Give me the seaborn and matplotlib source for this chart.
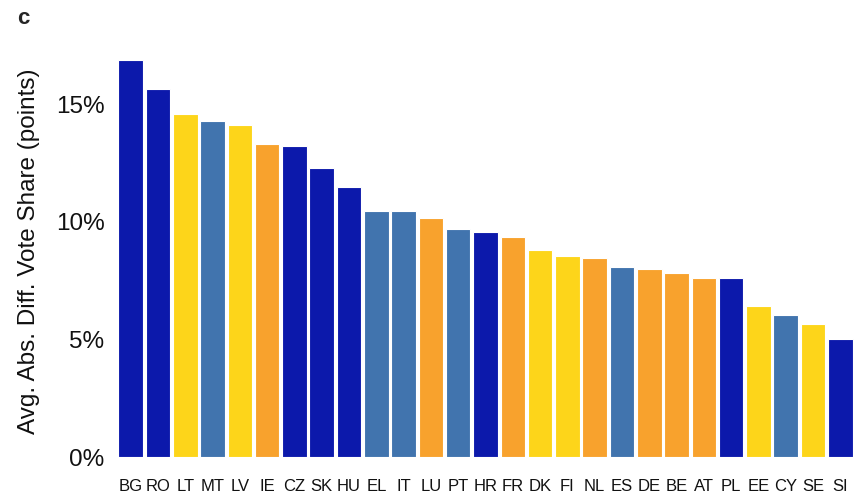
import seaborn as sns
from matplotlib import pyplot as plt
from matplotlib.ticker import FuncFormatter

countries = ["BG", "RO", "LT", "MT", "LV", "IE", "CZ", "SK", "HU", "EL", "IT", "LU", "PT", "HR",
             "FR", "DK", "FI", "NL", "ES", "DE", "BE", "AT", "PL", "EE", "CY", "SE", "SI"]
values = [16.9, 15.64, 14.6, 14.31, 14.12, 13.31, 13.23, 12.3, 11.49, 10.48, 10.48, 10.18, 9.71, 9.56,
          9.37, 8.82, 8.54, 8.48, 8.08, 7.99, 7.84, 7.6, 7.6, 6.42, 6.05, 5.66, 5.03]
groups = ["blue", "blue", "yellow", "steel", "yellow", "orange", "blue", "blue", "blue", "steel", "steel",
          "orange", "steel", "blue", "orange", "yellow", "yellow", "orange", "steel", "orange", "orange",
          "orange", "blue", "yellow", "steel", "yellow", "blue"]
group_colors = {"blue": "#0C19AB", "yellow": "#FDD51A", "steel": "#4174AE", "orange": "#F8A22D"}
y_ticks = [0, 5, 10, 15]

sns.set_style("white")
plt.rcParams['font.family'] = ['Liberation Sans', 'DejaVu Sans']

fig = plt.figure(figsize=(8.59, 4.98), dpi=100)
ax = fig.add_axes([0.1362, 0.0823, 0.858, 0.826])

palette = [group_colors[g] for g in groups]
sns.barplot(x=countries, y=values, hue=countries, palette=palette, legend=False,
            width=0.9, edgecolor="white", linewidth=0.8, saturation=1, ax=ax)

ax.set_xlim(-0.5, len(countries) - 0.5)
ax.set_ylim(0, 17.5)
ax.set_yticks(y_ticks)
ax.yaxis.set_major_formatter(FuncFormatter(lambda v, p: f"{v:.0f}%"))
ax.tick_params(axis='y', length=0, pad=9, labelsize=17.5, labelcolor='#111111')
ax.tick_params(axis='x', length=0, pad=16, labelsize=12, labelcolor='#111111')
ax.set_xlabel("")
ax.set_ylabel("Avg. Abs. Diff. Vote Share (points)", fontsize=17.5, color='#111111', labelpad=11)
sns.despine(ax=ax, left=True, bottom=True)

fig.text(0.02, 0.962, "c", fontsize=16, fontweight='bold', va='center')

fig.savefig("out.png", dpi=100)
